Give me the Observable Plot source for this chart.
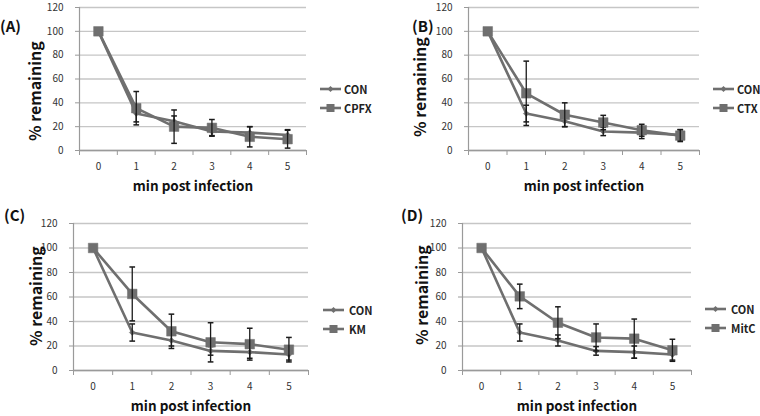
<!DOCTYPE html>
<html>
<head>
<meta charset="utf-8">
<script src="https://cdn.jsdelivr.net/npm/d3@7"></script>
<script src="https://cdn.jsdelivr.net/npm/@observablehq/plot@0.6"></script>
<style>
  html, body { margin: 0; padding: 0; background: #fff; }
  #root { position: relative; width: 760px; height: 416px; overflow: hidden; font-family: "Noto Sans CJK KR", "Noto Sans", sans-serif; }
  .panel { position: absolute; }
  .plabel { position: absolute; font-weight: bold; font-size: 15px; color: #111; }
  .legend { position: absolute; font-size: 11px; font-weight: bold; color: #222; }
  .legend .item { display: flex; align-items: center; height: 19px; }
</style>
</head>
<body>
<div id="root"></div>
<script>
// ---- data ----
const minutes = [0, 1, 2, 3, 4, 5];
const conMean = [100, 31, 24.5, 16, 15, 13];
const conErr  = [0, 7, 4.5, 3.5, 5, 4.5];
const cpfxMean = [100, 35.5, 20, 19, 11.5, 9.5];
const cpfxErr  = [0, 14, 14, 7, 8.5, 7.5];
const ctxMean = [100, 48, 30, 23.5, 17, 12.5];
const ctxErr  = [0, 27, 10, 6, 5, 5];
const kmMean = [100, 62.5, 32, 23, 21.5, 17];
const kmErr  = [0, 22, 14, 16, 13, 10];
const mitcMean = [100, 60.5, 39, 27, 26, 16.5];
const mitcErr  = [0, 10, 13, 11, 16, 9];
const yTicks = [0, 20, 40, 60, 80, 100, 120];
const panelLetters = ["(A)", "(B)", "(C)", "(D)"];
const treatmentNames = ["CPFX", "CTX", "KM", "MitC"];

// ---- layout ----
const layout = [
  {left: 0,   top: 0,   ml: 79, mr: 74, mt: 7,  mb: 58, lab: [0, 15],   leg: [320, 79],  lgap: 3, ylx: -44, yly: 12},
  {left: 380, top: 0,   ml: 88, mr: 61, mt: 7,  mb: 58, lab: [412, 15], leg: [713, 79],  lgap: 3, ylx: -48, yly: 8},
  {left: 0,   top: 208, ml: 73, mr: 72, mt: 15, mb: 46, lab: [4, 204],  leg: [323, 300], lgap: 5, ylx: -37, yly: -1},
  {left: 380, top: 208, ml: 82, mr: 69, mt: 15, mb: 46, lab: [401, 204], leg: [705, 299], lgap: 5, ylx: -40, yly: -2}
];
const treatments = [[cpfxMean, cpfxErr], [ctxMean, ctxErr], [kmMean, kmErr], [mitcMean, mitcErr]];

const lineColor = "#6f6f6f";
const errColor = "#1a1a1a";
const gridColor = "#c6c6c6";
const axisColor = "#9a9a9a";
const font = '"Noto Sans CJK KR", "Noto Sans", sans-serif';

const capSymbol = {
  draw(ctx, size) { const w = Math.sqrt(size); ctx.moveTo(-w / 2, 0); ctx.lineTo(w / 2, 0); }
};
const bounds = minutes.map(m => m - 0.5).concat([minutes[minutes.length - 1] + 0.5]);

function rows(mean, err) {
  return minutes.map((m, i) => ({m, v: mean[i], e: err[i]}));
}

function seriesMarks(data, symbol, r) {
  const withErr = data.filter(d => d.e > 0);
  return [
    Plot.line(data, {x: "m", y: "v", stroke: lineColor, strokeWidth: 2.6}),
    Plot.dot(data, {x: "m", y: "v", symbol, r, fill: lineColor, stroke: lineColor, strokeWidth: 0.5}),
    Plot.link(withErr, {x1: "m", x2: "m", y1: d => d.v - d.e, y2: d => d.v + d.e, stroke: errColor, strokeWidth: 1.3}),
    Plot.dot(withErr, {x: "m", y: d => d.v + d.e, symbol: capSymbol, r: 3.2, stroke: errColor, strokeWidth: 1.5}),
    Plot.dot(withErr, {x: "m", y: d => d.v - d.e, symbol: capSymbol, r: 3.2, stroke: errColor, strokeWidth: 1.5})
  ];
}

const root = document.getElementById("root");

layout.forEach((L, k) => {
  const con = rows(conMean, conErr);
  const trt = rows(treatments[k][0], treatments[k][1]);
  const chart = Plot.plot({
    width: 380, height: 208,
    marginLeft: L.ml, marginRight: L.mr, marginTop: L.mt, marginBottom: L.mb,
    style: {fontFamily: font, background: "transparent", overflow: "visible"},
    x: {type: "linear", domain: [bounds[0], bounds[bounds.length - 1]]},
    y: {domain: [0, 120]},
    marks: [
      Plot.gridY(yTicks, {stroke: gridColor, strokeOpacity: 1, strokeWidth: 1.3}),
      Plot.ruleX([bounds[0]], {stroke: axisColor, strokeWidth: 1.2}),
      Plot.ruleY([0], {stroke: axisColor, strokeWidth: 1.3}),
      Plot.axisY(yTicks, {tickSize: 4, tickPadding: 12, stroke: axisColor, label: null, fontSize: 10, color: "#333"}),
      Plot.axisX(bounds, {tickSize: 5, tickFormat: () => "", stroke: axisColor, label: null}),
      Plot.axisX(minutes, {tickSize: 0, tickPadding: 12, label: null, fontSize: 10, color: "#333"}),
      Plot.text(["min post infection"], {frameAnchor: "bottom", textAnchor: "middle", lineAnchor: "middle", dy: 36, fontSize: 13.5, fontWeight: "bold", fill: "#111"}),
      Plot.text(["% remaining"], {frameAnchor: "left", textAnchor: "middle", lineAnchor: "middle", dx: L.ylx, dy: L.yly, rotate: -90, fontSize: 16, fontWeight: "bold", fill: "#111"}),
      ...seriesMarks(con, "diamond2", 2.6),
      ...seriesMarks(trt, "square", 5.4)
    ]
  });
  chart.classList.add("panel");
  chart.style.left = L.left + "px";
  chart.style.top = L.top + "px";
  root.appendChild(chart);

  const lab = document.createElement("div");
  lab.className = "plabel";
  lab.textContent = panelLetters[k];
  lab.style.left = L.lab[0] + "px";
  lab.style.top = L.lab[1] + "px";
  root.appendChild(lab);

  const leg = document.createElement("div");
  leg.className = "legend";
  leg.style.left = L.leg[0] + "px";
  leg.style.top = L.leg[1] + "px";
  const items = [["CON", "diamond"], [treatmentNames[k], "square"]];
  items.forEach(([name, shape]) => {
    const it = document.createElement("div");
    it.className = "item";
    const s = d3.create("svg").attr("width", 21).attr("height", 10).style("margin-right", L.lgap + "px");
    s.append("line").attr("x1", 0).attr("x2", 21).attr("y1", 5).attr("y2", 5).attr("stroke", lineColor).attr("stroke-width", 2.6);
    if (shape === "square") {
      s.append("rect").attr("x", 6.5).attr("y", 1).attr("width", 8).attr("height", 8).attr("fill", lineColor);
    } else {
      s.append("path").attr("d", "M10.5,2 L13.5,5 L10.5,8 L7.5,5 Z").attr("fill", lineColor);
    }
    it.appendChild(s.node());
    const t = document.createElement("span");
    t.textContent = name;
    it.appendChild(t);
    leg.appendChild(it);
  });
  root.appendChild(leg);
});
</script>
</body>
</html>
